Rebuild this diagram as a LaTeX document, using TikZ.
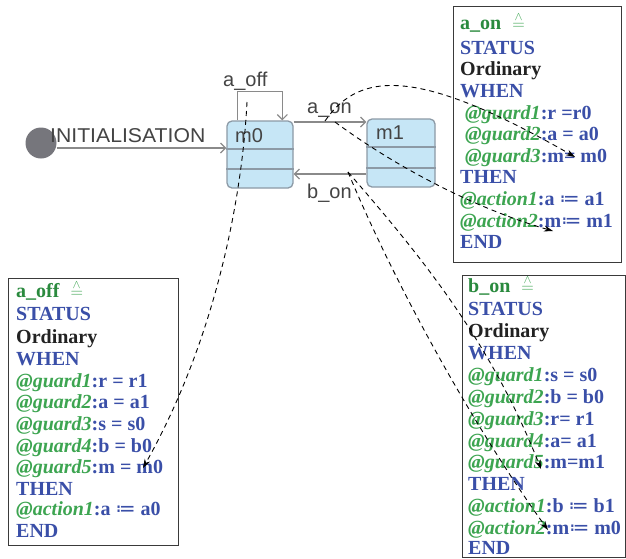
\documentclass[tikz,border=0pt]{standalone}
\usepackage{graphicx}
\usepackage{fontspec}
\setmainfont{Liberation Serif}
\newfontfamily\statefont{Liberation Sans}
\newfontfamily\symfont{DejaVu Sans}
\usetikzlibrary{arrows.meta}

\definecolor{titlegreen}{HTML}{2A8A3E}
\definecolor{guardgreen}{HTML}{3DA551}
\definecolor{kwblue}{HTML}{3A4FA8}
\definecolor{plainblack}{HTML}{222222}
\definecolor{stateblue}{HTML}{C6E6F6}
\definecolor{stateline}{HTML}{8C9AA6}
\definecolor{transgray}{HTML}{8A8A8A}
\definecolor{labelgray}{HTML}{444444}
\definecolor{dotgray}{HTML}{76767C}
\definecolor{panelline}{HTML}{3A3A3A}

% guard / action line: green italic label, blue body
\newcommand\gd[2]{\textcolor{guardgreen}{\itshape #1}\textcolor{kwblue}{#2}}
\newcommand\asg{{\symfont\mdseries ≔}}
% "is defined as" sign: a hat over an equals sign
\newcommand\eqdef{\textcolor{guardgreen}{\mdseries\fontsize{17}{17}\selectfont$\stackrel{\wedge}{=}$}}

\tikzset{
  statebox/.style={draw=stateline, fill=stateblue, line width=1.3pt,
    rounded corners=5pt, inner sep=0pt},
  divider/.style={draw=stateline, line width=1.3pt},
  trans/.style={draw=transgray, line width=1.2pt,
    -{Straight Barb[length=5pt,width=10pt,line width=1.2pt]}},
  slabel/.style={anchor=base west, inner sep=0pt, text=labelgray,
    font=\statefont\fontsize{20}{20}\selectfont},
  initdot/.style={circle, fill=dotgray, minimum size=31pt, inner sep=0pt},
  panel/.style={draw=panelline, line width=1.2pt, fill=white, inner sep=0pt},
  txt/.style={anchor=base west, inner sep=0pt,
    font=\fontsize{20}{22}\selectfont\bfseries},
  ttl/.style={txt, text=titlegreen},
  kw/.style={txt, text=kwblue},
  plain/.style={txt, text=plainblack},
  link/.style={draw=black, line width=0.9pt, dash pattern=on 5pt off 4pt,
    -{Stealth[length=9pt,width=6pt]}},
}

\begin{document}
\begin{tikzpicture}[x=1pt,y=-1pt]
\useasboundingbox[fill=white] (0,0) rectangle (626,558);

% ---------- state machine ----------
\node[initdot] (init) at (41,143) {};

\node[statebox, minimum width=66pt, minimum height=67pt] (m0) at (260,154.5) {};
\node[statebox, minimum width=68pt, minimum height=68pt] (m1) at (401,153) {};
\draw[divider] (m0.west |- 0,149) -- (m0.east |- 0,149);
\draw[divider] (m0.west |- 0,169) -- (m0.east |- 0,169);
\draw[divider] (m1.west |- 0,147) -- (m1.east |- 0,147);
\draw[divider] (m1.west |- 0,168) -- (m1.east |- 0,168);
\node[slabel] (m0lbl) at (235,142) {m0};
\node[slabel] (m1lbl) at (376,139) {m1};

\draw[trans] (init.east |- 0,148) -- (m0.west |- 0,148);
\node[slabel] (initlbl) at (50,142) {\scalebox{1.06}[1]{INITIALISATION}};
\draw[trans] ([xshift=11pt]m0.north west) -- ++(0,-29) -| ([xshift=56pt]m0.north west);
\draw[trans] (m0.east |- 0,122) -- (m1.west |- 0,122);
\draw[trans] (m1.west |- 0,174) -- (m0.east |- 0,174);
\node[slabel] (aofflbl) at (223,86) {a\_off};
\node[slabel] (aonlbl) at (307,113) {a\_on};
\node[slabel] (bonlbl) at (307,198) {b\_on};

% ---------- event a_on ----------
\node[panel, minimum width=168pt, minimum height=256pt, anchor=north west] (aonbox) at (453,6) {};
\node[ttl]   (aon1)  at (460,29)  {a\_on\hspace{11pt}\eqdef};
\node[kw]    (aon2)  at (460,54)  {STATUS};
\node[plain] (aon3)  at (460,75)  {Ordinary};
\node[kw]    (aon4)  at (460,97)  {WHEN};
\node[txt]   (aon5)  at (465,119) {\gd{@guard1}{:r =r0}};
\node[txt]   (aon6)  at (465,140) {\gd{@guard2}{:a = a0}};
\node[txt]   (aon7)  at (465,162) {\gd{@guard3}{:m= m0}};
\node[kw]    (aon8)  at (460,183) {THEN};
\node[txt]   (aon9)  at (460,205) {\gd{@action1}{:a \asg{} a1}};
\node[txt]   (aon10) at (460,227) {\gd{@action2}{:m\asg{} m1}};
\node[kw]    (aon11) at (460,248) {END};

% ---------- event a_off ----------
\node[panel, minimum width=170pt, minimum height=267pt, anchor=north west] (aoffbox) at (8,278) {};
\node[ttl]   (aoff1)  at (16,297) {a\_off\hspace{11pt}\eqdef};
\node[kw]    (aoff2)  at (16,320) {STATUS};
\node[plain] (aoff3)  at (16,343) {Ordinary};
\node[kw]    (aoff4)  at (16,365) {WHEN};
\node[txt]   (aoff5)  at (16,387) {\gd{@guard1}{:r = r1}};
\node[txt]   (aoff6)  at (16,408) {\gd{@guard2}{:a = a1}};
\node[txt]   (aoff7)  at (16,430) {\gd{@guard3}{:s = s0}};
\node[txt]   (aoff8)  at (16,452) {\gd{@guard4}{:b = b0}};
\node[txt]   (aoff9)  at (16,473) {\gd{@guard5}{:m = m0}};
\node[kw]    (aoff10) at (16,495) {THEN};
\node[txt]   (aoff11) at (16,515) {\gd{@action1}{:a \asg{} a0}};
\node[kw]    (aoff12) at (16,537) {END};

% ---------- event b_on ----------
\node[panel, minimum width=163pt, minimum height=282pt, anchor=north west] (bonbox) at (462,275) {};
\node[ttl]   (bon1)  at (468,292) {b\_on\hspace{11pt}\eqdef};
\node[kw]    (bon2)  at (468,315) {STATUS};
\node[plain] (bon3)  at (468,337) {Ordinary};
\node[kw]    (bon4)  at (468,359) {WHEN};
\node[txt]   (bon5)  at (468,381) {\gd{@guard1}{:s = s0}};
\node[txt]   (bon6)  at (468,403) {\gd{@guard2}{:b = b0}};
\node[txt]   (bon7)  at (468,425) {\gd{@guard3}{:r= r1}};
\node[txt]   (bon8)  at (468,447) {\gd{@guard4}{:a= a1}};
\node[txt]   (bon9)  at (468,468) {\gd{@guard5}{:m=m1}};
\node[kw]    (bon10) at (468,490) {THEN};
\node[txt]   (bon11) at (468,512) {\gd{@action1}{:b \asg{} b1}};
\node[txt]   (bon12) at (468,534) {\gd{@action2}{:m\asg{} m0}};
\node[kw]    (bon13) at (468,554) {END};

% ---------- dashed links from transitions to event texts ----------
\coordinate (aoffFrom) at (247,102);
\coordinate (aoffTo)   at (143,468);
\coordinate (aonFromA) at (325,121);
\coordinate (aonToA)   at (575,157);
\coordinate (aonFromB) at (335,122);
\coordinate (aonToB)   at (553,231);
\coordinate (bonFrom)  at (348,172);
\coordinate (bonToA)   at (541,469);
\coordinate (bonToB)   at (548,530);

\draw[link] (aoffFrom) .. controls (242,200) and (215,340) .. (aoffTo);
\draw[link] (aonFromA) .. controls (360,70) and (420,68) .. (aonToA);
\draw[link] (aonFromB) .. controls (400,170) and (480,210) .. (aonToB);
\draw[link] (bonFrom) .. controls (420,255) and (490,340) .. (bonToA);
\draw[link] (bonFrom) .. controls (398,292) and (478,433) .. (bonToB);
\end{tikzpicture}
\end{document}
